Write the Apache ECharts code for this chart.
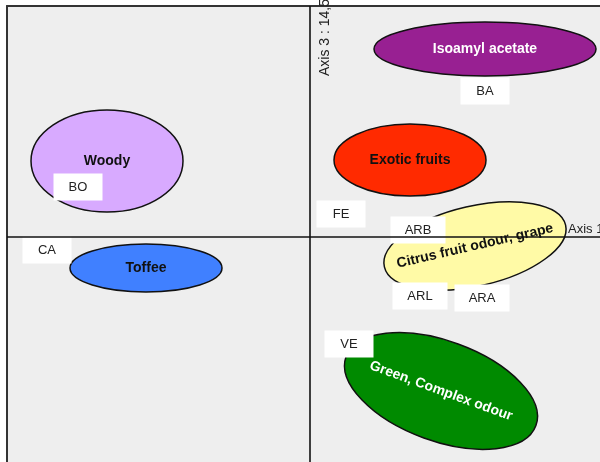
<!DOCTYPE html>
<html>
<head>
<meta charset="utf-8">
<style>
html, body { margin: 0; padding: 0; background: #ffffff; }
#main { width: 600px; height: 462px; }
</style>
<script src="https://cdn.jsdelivr.net/npm/echarts@6/dist/echarts.min.js"></script>
</head>
<body>
<div id="main"></div>
<script>
// odour groups: centre on axis 1 / axis 3, half axes, tilt (degrees)
var groupNames = ['Isoamyl acetate', 'Woody', 'Exotic fruits', 'Toffee', 'Citrus fruit odour, grape', 'Green, Complex odour'];
var groupX = [1.75, -2.03, 1.00, -1.64, 1.65, 1.31];
var groupY = [1.88, 0.76, 0.77, -0.31, -0.09, -1.54];
var groupRx = [1.11, 0.76, 0.76, 0.76, 0.93, 1.01];
var groupRy = [0.27, 0.51, 0.36, 0.24, 0.40, 0.50];
var groupTilt = [0, 0, 0, 0, 13, -20];
var groupColors = ['#982092', '#d8aaff', '#ff2a00', '#4080ff', '#fffaa6', '#008a00'];
var groupTextColors = ['#ffffff', '#111111', '#111111', '#111111', '#111111', '#ffffff'];

// products
var productNames = ['BA', 'BO', 'FE', 'ARB', 'ARL', 'ARA', 'VE', 'CA'];
var productX = [1.75, -2.32, 0.31, 1.08, 1.10, 1.72, 0.39, -2.63];
var productY = [1.46, 0.50, 0.23, 0.07, -0.59, -0.61, -1.07, -0.13];

var axisMin = [-3.03, -2.25];
var axisMax = [2.90, 2.31];

var myChart = echarts.init(document.getElementById('main'));

var groupData = groupNames.map(function (n, i) {
    return [groupX[i], groupY[i], groupRx[i], groupRy[i], groupTilt[i]];
});
var productData = productNames.map(function (n, i) {
    return [productX[i], productY[i]];
});

var font = '"Liberation Sans", Arial, sans-serif';

var option = {
    animation: false,
    grid: {
        left: 7,
        top: 6,
        right: 0,
        bottom: 0,
        show: true,
        backgroundColor: '#eeeeee',
        borderWidth: 0
    },
    xAxis: {
        type: 'value',
        position: 'top',
        min: axisMin[0],
        max: axisMax[0],
        axisLine: { show: true, onZero: false, lineStyle: { color: '#333333', width: 2 } },
        axisTick: { show: false },
        axisLabel: { show: false },
        splitLine: { show: false }
    },
    yAxis: {
        type: 'value',
        position: 'left',
        min: axisMin[1],
        max: axisMax[1],
        axisLine: { show: true, onZero: false, lineStyle: { color: '#333333', width: 2 } },
        axisTick: { show: false },
        axisLabel: { show: false },
        splitLine: { show: false }
    },
    graphic: [
        {
            type: 'text',
            x: 325,
            y: 76,
            rotation: Math.PI / 2,
            z: 10,
            style: { text: 'Axis 3 : 14,53 %', fill: '#222222', font: '14px ' + font, align: 'left', verticalAlign: 'middle' }
        },
        {
            type: 'text',
            x: 568,
            y: 229,
            z: 10,
            style: { text: 'Axis 1 : 37,21 %', fill: '#222222', font: '13px ' + font, align: 'left', verticalAlign: 'middle' }
        }
    ],
    series: [
        {
            // the two axes crossing at 0
            type: 'line',
            data: [],
            z: 1,
            silent: true,
            markLine: {
                symbol: 'none',
                silent: true,
                label: { show: false },
                lineStyle: { color: '#111111', width: 1.6, type: 'solid' },
                data: [{ xAxis: 0 }, { yAxis: 0 }]
            }
        },
        {
            type: 'custom',
            z: 3,
            data: groupData,
            renderItem: function (params, api) {
                var i = params.dataIndex;
                var c = api.coord([api.value(0), api.value(1)]);
                var s = api.size([api.value(2), api.value(3)]);
                var rot = api.value(4) * Math.PI / 180;
                return {
                    type: 'group',
                    children: [
                        {
                            type: 'ellipse',
                            x: c[0],
                            y: c[1],
                            rotation: rot,
                            shape: { cx: 0, cy: 0, rx: s[0], ry: s[1] },
                            style: { fill: groupColors[i], stroke: '#111111', lineWidth: 1.5 }
                        },
                        {
                            type: 'text',
                            x: c[0],
                            y: c[1],
                            rotation: rot,
                            style: {
                                text: groupNames[i],
                                fill: groupTextColors[i],
                                font: 'bold 14px ' + font,
                                align: 'center',
                                verticalAlign: 'middle'
                            }
                        }
                    ]
                };
            }
        },
        {
            type: 'custom',
            z: 4,
            data: productData,
            renderItem: function (params, api) {
                var i = params.dataIndex;
                var c = api.coord([api.value(0), api.value(1)]);
                var w = productNames[i].length > 2 ? 55 : 49;
                var h = 27;
                return {
                    type: 'group',
                    children: [
                        {
                            type: 'rect',
                            shape: { x: c[0] - w / 2, y: c[1] - h / 2, width: w, height: h },
                            style: { fill: '#ffffff' }
                        },
                        {
                            type: 'text',
                            x: c[0],
                            y: c[1],
                            style: {
                                text: productNames[i],
                                fill: '#222222',
                                font: '13px ' + font,
                                align: 'center',
                                verticalAlign: 'middle'
                            }
                        }
                    ]
                };
            }
        }
    ]
};
myChart.setOption(option);
</script>
</body>
</html>
